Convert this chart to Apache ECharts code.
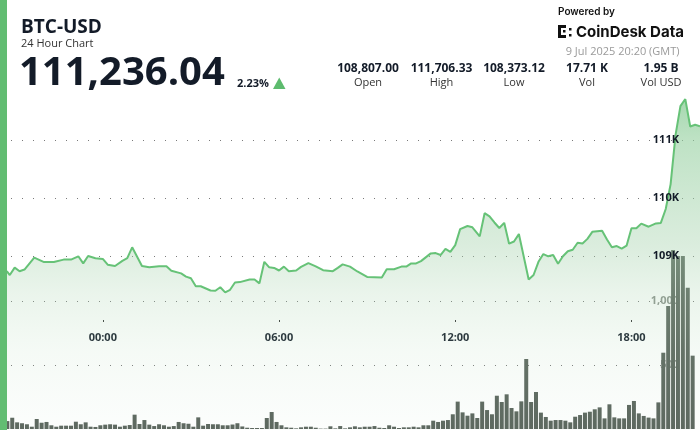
<!DOCTYPE html>
<html><head><meta charset="utf-8">
<script src="https://cdn.jsdelivr.net/npm/echarts@6.0.0/dist/echarts.min.js"></script>
<style>html,body{margin:0;padding:0;background:#fff}#c{width:700px;height:430px}</style>
</head><body><div id="c"></div>
<script>
// ---- data ----
const priceTimes = [
 '20:30','20:45','20:50','21:00','21:10','21:20','21:40','22:00','22:20','22:40',
 '22:55','23:10','23:20','23:30','23:45','00:00','00:10','00:25','00:40','00:50',
 '01:00','01:20','01:35','01:55','02:10','02:20','02:40','02:50','03:00','03:10',
 '03:20','03:40','03:50','04:00','04:10','04:20','04:30','04:40','05:00','05:10',
 '05:20','05:30','05:40','05:50','06:00','06:10','06:20','06:35','06:45','07:00',
 '07:15','07:30','07:50','08:00','08:10','08:25','08:40','09:00','09:15','09:30',
 '09:40','09:55','10:10','10:20','10:30','10:40','10:50','11:10','11:20','11:30',
 '11:40','11:50','12:00','12:10','12:25','12:35','12:50','13:00','13:10','13:20',
 '13:30','13:40','13:50','14:00','14:10','14:30','14:40','14:50','15:00','15:10',
 '15:20','15:30','15:40','15:50','16:00','16:10','16:20','16:30','16:40','17:00',
 '17:10','17:20','17:30','17:40','17:50','18:00','18:10','18:20','18:35','18:50',
 '19:00','19:10','19:20','19:30','19:40','19:50','20:00','20:10','20:20'
];
const priceValues = [
 108807,108728,108672,108800,108738,108767,108972,108895,108895,108938,
 108938,108995,108872,109000,108962,108950,108850,108828,108917,108962,
 109150,108828,108805,108822,108822,108745,108700,108645,108617,108478,
 108478,108405,108400,108462,108373,108417,108542,108550,108595,108595,
 108528,108900,108805,108795,108750,108817,108738,108750,108812,108878,
 108822,108755,108738,108795,108855,108817,108733,108638,108633,108628,
 108772,108772,108817,108817,108872,108872,108912,109045,109050,109017,
 109122,109072,109188,109463,109517,109495,109338,109738,109683,109578,
 109483,109572,109212,109250,109378,108595,108672,108900,109033,108995,
 109017,108867,108995,109083,109108,109228,109217,109295,109417,109437,
 109283,109150,109172,109128,109178,109478,109478,109558,109505,109562,
 109570,109810,110240,111083,111583,111706,111233,111262,111236.04
];
const volumeStart = '20:30';
const volumeStepMin = 10;
const volumeValues = [
 45,62,88,52,45,37,18,78,49,55,
 29,18,26,26,26,57,37,52,18,16,
 29,34,37,34,18,26,31,112,39,70,
 34,23,37,29,18,23,55,45,41,18,
 91,26,39,37,37,29,29,35,45,20,
 10,8,8,8,86,133,55,29,13,10,
 5,13,18,18,10,3,3,21,5,23,
 5,13,21,13,18,18,23,10,8,29,
 18,8,13,13,18,13,29,29,65,55,
 65,70,115,214,130,104,122,86,214,148,
 115,260,211,271,164,138,216,547,211,289,
 128,94,65,70,70,65,52,96,109,128,
 135,154,169,83,193,91,83,83,188,219,
 122,102,89,83,208,596,961,1398,1352,1352,
 1104,573,null
];
const priceTicks = [109000, 110000, 111000];
const volumeTicks = [500, 1000];
const timeTicks = ['00:00', '06:00', '12:00', '18:00'];
const header = {symbol:'BTC-USD', sub:'24 Hour Chart', last:'111,236.04', change:'2.23%', date:'9 Jul 2025 20:20 (GMT)'};
const statValues = ['108,807.00','111,706.33','108,373.12','17.71 K','1.95 B'];
const statLabels = ['Open','High','Low','Vol','Vol USD'];

// ---- helpers ----
function toMinutes(list){ // minutes relative to 00:00 of 9 Jul (first day negative)
  let day = -1, prev = -1;
  return list.map(s => { const [h,m] = s.split(':').map(Number); const v = h*60+m; if (prev >= 0 && v < prev) day++; prev = v; return v + day*1440; });
}
const priceMin = toMinutes(priceTimes);
const priceData = priceMin.map((t,i) => [t, priceValues[i]]);
const volumeCats = [];
{ let [h,m] = volumeStart.split(':').map(Number); let t = h*60+m;
  for (let i = 0; i < volumeValues.length; i++) { const tt = (t + i*volumeStepMin) % 1440; volumeCats.push(String(Math.floor(tt/60)).padStart(2,'0')+':'+String(tt%60).padStart(2,'0')); } }
const timeTickMin = timeTicks.map(s => { const [h,m] = s.split(':').map(Number); return h*60+m; });
const xMin = priceMin[0], xMax = priceMin[priceMin.length-1];
const fmtHM = v => String(Math.floor(v/60)).padStart(2,'0') + ':' + String(v%60).padStart(2,'0');

const DARK = '#131b28';
const FONT = 'Open Sans';
const dotLine = {type:[1,10], color:'#7a7a7a', width:1};

function txt(x, y, text, font, fill, align){
  return {type:'text', x, y, z:100, silent:true,
    style:{text, font, fill, align: align||'left', verticalAlign:'middle', textAlign: align||'left', textVerticalAlign:'middle'}};
}
const statX = [368, 441.5, 514, 587, 661];
const graphics = [
  {type:'rect', shape:{x:0,y:0,width:7,height:430}, style:{fill:'#62bd72'}, z:100, silent:true},
  txt(21, 27.5, header.symbol, 'bold 19px "Open Sans"', DARK),
  txt(21, 43.5, header.sub, '11px "Open Sans"', '#333'),
  txt(19, 73.5, header.last, 'bold 40px "Open Sans"', DARK),
  txt(237, 83.5, header.change, 'bold 11px "Open Sans"', DARK),
  {type:'polygon', shape:{points:[[273,89],[285.5,89],[279.25,77.5]]}, style:{fill:'#5dbb6e'}, z:100, silent:true},
  txt(558, 11.5, 'Powered by', '600 10px Inter', '#111'),
  txt(576, 32.5, 'CoinDesk Data', 'bold 15px Inter', '#111'),
  txt(679.5, 51.5, header.date, '11px "Open Sans"', '#9a9a9a', 'right'),
  // logo mark
  {type:'rect', shape:{x:558,y:25,width:3,height:13}, style:{fill:'#111'}, z:100, silent:true},
  {type:'rect', shape:{x:558,y:25,width:8,height:3}, style:{fill:'#111'}, z:100, silent:true},
  {type:'rect', shape:{x:558,y:35,width:8,height:3}, style:{fill:'#111'}, z:100, silent:true},
  {type:'rect', shape:{x:563,y:30,width:2.5,height:2.5}, style:{fill:'#111'}, z:100, silent:true},
  {type:'rect', shape:{x:569,y:28,width:2.5,height:2.5}, style:{fill:'#111'}, z:100, silent:true},
  {type:'rect', shape:{x:569,y:34,width:2.5,height:2.5}, style:{fill:'#111'}, z:100, silent:true}
];
statValues.forEach((v,i) => {
  graphics.push(txt(statX[i], 69, v, 'bold 12px "Open Sans"', DARK, 'center'));
  graphics.push(txt(statX[i], 83, statLabels[i], '11px "Open Sans"', '#333', 'center'));
});

const chart = echarts.init(document.getElementById('c'), null, {renderer:'canvas'});
chart.setOption({
  animation:false,
  backgroundColor:'#fff',
  textStyle:{fontFamily:FONT},
  grid:[
    {left:0, right:0, top:53, bottom:-13},
    {left:0, right:0, top:237, bottom:1},
    {left:0, right:0, top:0, height:320}
  ],
  xAxis:[
    {type:'value', gridIndex:0, min:xMin, max:xMax, show:false},
    {type:'category', gridIndex:1, data:volumeCats, show:false, boundaryGap:true},
    {type:'value', gridIndex:2, min:xMin, max:xMax, interval:30,
      axisLine:{show:false}, splitLine:{show:false},
      axisTick:{show:true, length:2, customValues:timeTickMin, lineStyle:{color:'#333', width:1}},
      axisLabel:{customValues:timeTickMin, margin:12, fontSize:11, fontWeight:'bold', color:DARK, fontFamily:FONT,
        formatter: v => timeTickMin.includes(v) ? fmtHM(v) : ''}}
  ],
  yAxis:[
    {type:'value', gridIndex:0, min:106000, max:112500, interval:500, position:'right', z:10,
      axisLine:{show:false}, axisTick:{show:false}, splitLine:{show:false},
      axisLabel:{inside:true, margin:21, fontSize:11, fontWeight:'bold', color:DARK, fontFamily:FONT,
        formatter: v => priceTicks.includes(v) ? (v/1000)+'K' : ''}},
    {type:'value', gridIndex:1, min:0, max:1500, interval:500, position:'right', z:0,
      axisLine:{show:false}, axisTick:{show:false},
      splitLine:{show:true, showMinLine:false, showMaxLine:false, lineStyle:dotLine},
      axisLabel:{inside:true, margin:21, fontSize:11, fontWeight:'bold', color:'#8b918b', fontFamily:FONT,
        showMinLabel:false, showMaxLabel:false,
        formatter: v => volumeTicks.includes(v) ? v.toLocaleString('en-US') : ''}},
    {type:'value', gridIndex:2, show:false}
  ],
  series:[
    {type:'bar', xAxisIndex:1, yAxisIndex:1, data:volumeValues, barWidth:4, z:1,
      itemStyle:{color:'#5a645c'}, silent:true},
    {type:'line', xAxisIndex:0, yAxisIndex:0, data:priceData, showSymbol:false, z:3, silent:true,
      lineStyle:{color:'#66c277', width:2},
      areaStyle:{color:{type:'linear', x:0, y:0, x2:0, y2:1, colorStops:[
        {offset:0, color:'rgba(120,196,134,0.95)'},
        {offset:0.12, color:'rgba(145,206,156,0.85)'},
        {offset:0.44, color:'rgba(165,210,172,0.58)'},
        {offset:0.59, color:'rgba(170,212,176,0.35)'},
        {offset:0.76, color:'rgba(175,215,180,0.18)'},
        {offset:1, color:'rgba(180,218,186,0.06)'}]}},
      markLine:{silent:true, symbol:'none', label:{show:false}, z:0,
        lineStyle:dotLine, data: priceTicks.map(v => ({yAxis:v}))}}
  ],
  graphic: graphics
});
</script></body></html>
